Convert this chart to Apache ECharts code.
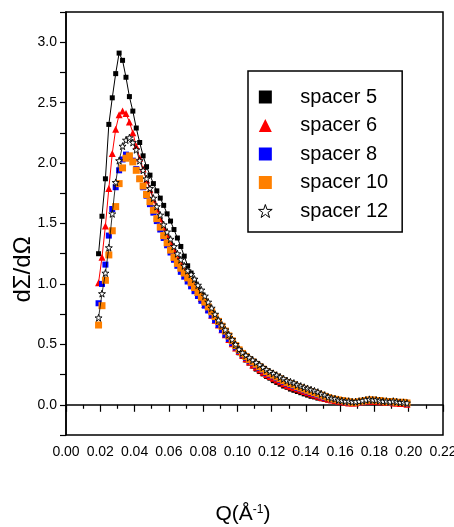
<!DOCTYPE html>
<html>
<head>
<meta charset="utf-8">
<script src="https://cdn.jsdelivr.net/npm/echarts@6/dist/echarts.min.js"></script>
<style>html,body{margin:0;padding:0;background:#fff}#c{width:454px;height:527px}</style>
</head>
<body>
<div id="c"></div>
<script>
const Q = [0.019,0.021,0.023,0.025,0.027,0.029,0.031,0.033,0.035,0.037,
0.039,0.041,0.043,0.045,0.047,0.049,0.051,0.053,0.055,0.057,
0.059,0.061,0.063,0.065,0.067,0.069,0.071,0.073,0.075,0.077,
0.079,0.081,0.083,0.085,0.087,0.089,0.091,0.093,0.095,0.097,
0.099,0.101,0.103,0.105,0.107,0.109,0.111,0.113,0.115,0.117,
0.119,0.121,0.123,0.125,0.127,0.129,0.131,0.133,0.135,0.137,
0.139,0.141,0.143,0.145,0.147,0.149,0.151,0.153,0.155,0.157,
0.159,0.161,0.163,0.165,0.167,0.169,0.171,0.173,0.175,0.177,
0.179,0.181,0.183,0.185,0.187,0.189,0.191,0.193,0.195,0.197,0.199];

const spacer5 = [1.25,1.56,1.87,2.32,2.54,2.74,2.91,2.85,2.71,2.55,
2.43,2.29,2.17,2.06,1.97,1.90,1.83,1.77,1.71,1.65,
1.58,1.52,1.45,1.38,1.31,1.23,1.15,1.09,1.03,0.97,
0.91,0.86,0.81,0.76,0.71,0.67,0.62,0.58,0.54,0.50,
0.465,0.43,0.40,0.37,0.345,0.32,0.295,0.275,0.255,0.235,
0.22,0.20,0.185,0.17,0.155,0.145,0.13,0.12,0.11,0.10,
0.09,0.08,0.07,0.065,0.055,0.05,0.045,0.04,0.035,0.03,
0.025,0.02,0.02,0.015,0.015,0.015,0.02,0.025,0.03,0.03,
0.035,0.03,0.03,0.025,0.02,0.02,0.015,0.015,0.01,0.01,0.005];

const spacer6 = [1.01,1.22,1.48,1.79,2.08,2.28,2.40,2.43,2.41,2.34,
2.25,2.14,2.04,1.95,1.86,1.78,1.70,1.62,1.54,1.47,
1.40,1.34,1.28,1.22,1.17,1.12,1.07,1.02,0.98,0.93,
0.88,0.83,0.79,0.74,0.70,0.66,0.62,0.58,0.54,0.505,
0.47,0.44,0.41,0.38,0.355,0.33,0.31,0.29,0.27,0.25,
0.235,0.22,0.205,0.19,0.175,0.16,0.15,0.14,0.13,0.12,
0.11,0.10,0.09,0.08,0.07,0.06,0.055,0.045,0.04,0.035,
0.03,0.025,0.02,0.015,0.015,0.015,0.02,0.025,0.03,0.03,
0.03,0.03,0.025,0.025,0.02,0.02,0.015,0.015,0.01,0.01,0.005];

const spacer8 = [0.84,1.00,1.16,1.40,1.62,1.80,1.94,2.03,2.07,2.05,
2.02,1.95,1.87,1.80,1.73,1.66,1.59,1.52,1.45,1.38,
1.32,1.26,1.20,1.15,1.10,1.06,1.02,0.98,0.94,0.90,
0.86,0.82,0.78,0.74,0.70,0.66,0.62,0.58,0.545,0.51,
0.475,0.445,0.415,0.39,0.365,0.345,0.325,0.305,0.285,0.265,
0.25,0.235,0.22,0.205,0.19,0.175,0.165,0.155,0.14,0.13,
0.12,0.11,0.10,0.09,0.08,0.07,0.06,0.055,0.045,0.04,
0.035,0.03,0.025,0.02,0.02,0.02,0.02,0.025,0.03,0.035,
0.035,0.035,0.03,0.03,0.025,0.02,0.02,0.02,0.015,0.015,0.01];

const spacer10 = [0.66,0.82,1.03,1.24,1.44,1.64,1.83,1.96,2.04,2.06,
2.01,1.94,1.87,1.81,1.74,1.68,1.61,1.54,1.47,1.40,
1.34,1.28,1.22,1.17,1.13,1.09,1.05,1.01,0.97,0.93,
0.89,0.85,0.81,0.77,0.73,0.69,0.65,0.61,0.57,0.53,
0.49,0.455,0.425,0.40,0.375,0.355,0.335,0.315,0.295,0.275,
0.26,0.245,0.23,0.215,0.20,0.185,0.175,0.165,0.15,0.14,
0.13,0.12,0.11,0.10,0.09,0.08,0.07,0.06,0.05,0.045,
0.04,0.035,0.03,0.025,0.02,0.02,0.025,0.03,0.035,0.04,
0.04,0.035,0.035,0.03,0.025,0.025,0.025,0.02,0.02,0.02,0.015];

const spacer12 = [0.72,0.92,1.09,1.30,1.58,1.84,2.02,2.14,2.19,2.21,
2.17,2.11,2.02,1.94,1.87,1.79,1.71,1.64,1.57,1.49,
1.43,1.37,1.31,1.25,1.20,1.15,1.11,1.08,1.04,0.99,
0.95,0.90,0.85,0.80,0.75,0.70,0.66,0.62,0.58,0.54,
0.50,0.46,0.43,0.41,0.39,0.37,0.35,0.33,0.31,0.29,
0.275,0.26,0.245,0.23,0.215,0.20,0.19,0.18,0.165,0.155,
0.145,0.135,0.125,0.115,0.105,0.09,0.08,0.065,0.055,0.05,
0.04,0.035,0.03,0.03,0.025,0.025,0.03,0.035,0.04,0.045,
0.04,0.04,0.035,0.03,0.03,0.025,0.03,0.025,0.02,0.02,0.015];

const seriesNames = ['spacer 5','spacer 6','spacer 8','spacer 10','spacer 12'];
const xTicks = {min: 0, max: 0.22, step: 0.02};
const yTicks = {min: -0.25, max: 3.25, step: 0.25};

const STAR = 'path://M12,0 L14.9,8.6 L24,8.6 L16.6,14 L19.4,22.8 L12,17.4 L4.6,22.8 L7.4,14 L0,8.6 L9.1,8.6 Z';
const SQUARE = 'path://M0,0 L10,0 L10,10 L0,10 Z';
const TRI = 'path://M5,0 L10,10 L0,10 Z';
const FONT = 'Liberation Sans, Arial, sans-serif';

function pairs(vals) { return Q.map((q, i) => [q, vals[i]]); }

const chart = echarts.init(document.getElementById('c'), null, {renderer: 'canvas'});
chart.setOption({
  animation: false,
  backgroundColor: '#fff',
  grid: {left: 66, right: 11, top: 12, bottom: 92, containLabel: false, outerBoundsMode: 'none',
    show: true, borderColor: '#000', borderWidth: 1.5, backgroundColor: 'transparent'},
  legend: {
    orient: 'vertical', left: 248, top: 71,
    padding: [16, 14, 11, 10],
    itemGap: 8.5, itemWidth: 60, itemHeight: 13,
    symbolKeepAspect: true,
    borderColor: '#000', borderWidth: 1.5,
    selectedMode: false,
    textStyle: {fontSize: 20, color: '#000', fontFamily: FONT},
    data: [
      {name: seriesNames[0], icon: SQUARE, itemStyle: {color: '#000', borderWidth: 0}},
      {name: seriesNames[1], icon: TRI, itemStyle: {color: '#ff0000', borderWidth: 0}},
      {name: seriesNames[2], icon: SQUARE, itemStyle: {color: '#0000ff', borderWidth: 0}},
      {name: seriesNames[3], icon: SQUARE, itemStyle: {color: '#ff8000', borderWidth: 0}},
      {name: seriesNames[4], icon: STAR, itemStyle: {color: '#fff', borderColor: '#000', borderWidth: 1}}
    ]
  },
  xAxis: {
    type: 'value', min: xTicks.min, max: xTicks.max, interval: xTicks.step,
    name: '{a|Q(Å}{s|-1}{a|)}', nameLocation: 'middle', nameGap: 69, nameMoveOverlap: false,
    nameTextStyle: {
      padding: [0, 23, 0, 0],
      rich: {
        a: {fontSize: 21, color: '#000', fontFamily: FONT, verticalAlign: 'bottom'},
        s: {fontSize: 12, color: '#000', fontFamily: FONT, verticalAlign: 'top'}
      }
    },
    axisLine: {lineStyle: {color: '#000', width: 1.5}},
    axisTick: {length: 7, lineStyle: {color: '#000', width: 1.2}},
    minorTick: {show: true, splitNumber: 2, length: 4, lineStyle: {color: '#000', width: 1.2}},
    splitLine: {show: false},
    axisLabel: {color: '#000', fontSize: 14, fontFamily: FONT, margin: 10, hideOverlap: false,
      formatter: v => v.toFixed(2)}
  },
  yAxis: {
    type: 'value', min: yTicks.min, max: yTicks.max, interval: yTicks.step,
    name: 'dΣ/dΩ', nameLocation: 'middle', nameGap: 31, nameRotate: 90, nameMoveOverlap: false,
    nameTextStyle: {fontSize: 24, color: '#000', fontFamily: FONT, padding: [0, 92, 0, 0]},
    axisLine: {lineStyle: {color: '#000', width: 1.5}},
    axisTick: {length: 6, lineStyle: {color: '#000', width: 1.2}},
    splitLine: {show: false},
    axisLabel: {color: '#000', fontSize: 14, fontFamily: FONT, margin: 9,
      formatter: v => (Math.abs(v * 2 - Math.round(v * 2)) < 1e-6 ? v.toFixed(1) : '')}
  },
  series: [
    {name: seriesNames[0], type: 'line', data: pairs(spacer5), symbol: 'rect', symbolSize: 5,
     itemStyle: {color: '#000'}, lineStyle: {color: '#000', width: 1}, silent: true, z: 2},
    {name: seriesNames[1], type: 'line', data: pairs(spacer6), symbol: 'triangle', symbolSize: 7,
     itemStyle: {color: '#ff0000'}, lineStyle: {color: '#ff0000', width: 1}, silent: true, z: 3},
    {name: seriesNames[2], type: 'line', data: pairs(spacer8), symbol: 'rect', symbolSize: 6,
     itemStyle: {color: '#0000ff'}, lineStyle: {width: 0, opacity: 0}, silent: true, z: 4},
    {name: seriesNames[3], type: 'line', data: pairs(spacer10), symbol: 'rect', symbolSize: 7,
     itemStyle: {color: '#ff8000'}, lineStyle: {width: 0, opacity: 0}, silent: true, z: 5},
    {name: seriesNames[4], type: 'line', data: pairs(spacer12), symbol: STAR, symbolSize: 7,
     itemStyle: {color: '#fff', borderColor: '#000', borderWidth: 0.9},
     lineStyle: {color: '#000', width: 0.8}, silent: true, z: 6}
  ]
});
</script>
</body>
</html>
